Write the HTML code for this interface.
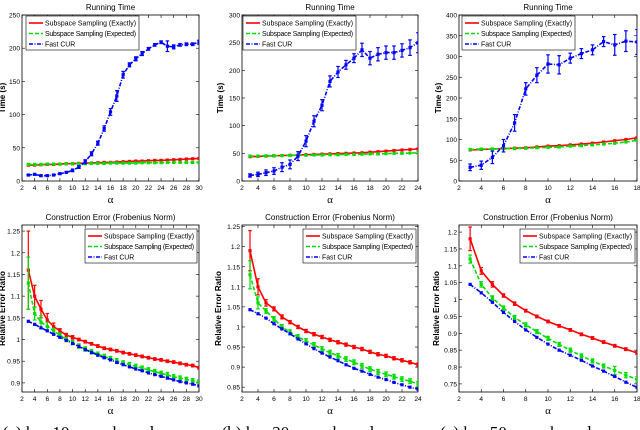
<!DOCTYPE html>
<html><head><meta charset="utf-8">
<style>
html,body{margin:0;padding:0;background:#fff;}
svg{display:block;font-family:"Liberation Sans",sans-serif;}
</style></head>
<body>
<svg id="fig" width="640" height="430" viewBox="0 0 640 430"></svg>
<script>
// ---- data ----
const xs1 = [3,4,5,6,7,8,9,10,11,12,13,14,15,16,17,18,19,20,21,22,23,24,25,26,27,28,29,30];
const xs2 = [3,4,5,6,7,8,9,10,11,12,13,14,15,16,17,18,19,20,21,22,23,24];
const xs3 = [3,4,5,6,7,8,9,10,11,12,13,14,15,16,17,18];

const t1Exact = [24,24,24.5,25,25,25.5,26,26,26.5,27,27,27.5,28,28,28.5,29,29.5,30,30,30.5,31,31,31.5,32,32.5,33,33.5,34];
const t1Expect = [25,25,25,25.5,25.5,25.5,26,26,26,26,26.5,26.5,26.5,27,27,27,27,27,27.5,27.5,27.5,27.5,28,28,28,28,28,28];
const t1Fast = [9,10,8,8,9,11,13,16,21,29,41,57,79,104,128,160,175,184,192,199,205,209,203,202,205,206,206,209];
const t1FastErr = [1,1,1,1,1,1,1,2,2,3,3,3,4,5,8,5,3,3,3,2,2,2,8,3,2,2,2,3];

const t2Exact = [44,44.5,45,45.5,46,46.5,47,47.5,48,48.5,49,49.5,50,50.5,51,52,53,54,55,56,57,58];
const t2Expect = [45,45,45.5,45.5,46,46,46.5,46.5,47,47,47.5,47.5,48,48,48.5,49,49,49.5,50,50,50.5,51];
const t2Fast = [10,12,15,18,25,30,45,72,108,137,180,197,210,222,237,222,229,232,232,236,241,250];
const t2FastErr = [3,4,5,6,8,8,8,10,10,10,10,10,8,8,12,12,12,12,12,12,14,18];

const t3Exact = [75,76,77,78,79,80,82,84,85,87,89,91,94,97,100,104];
const t3Expect = [76,77,77,78,78,79,80,81,82,84,85,87,89,91,94,98];
const t3Fast = [33,38,57,85,140,222,255,282,280,296,307,316,336,328,337,335];
const t3FastErr = [8,10,15,15,20,15,18,22,22,12,12,12,12,25,25,30];

const e1Exact = [1.16,1.10,1.07,1.045,1.03,1.02,1.01,1.005,1.0,0.995,0.99,0.985,0.98,0.977,0.974,0.97,0.967,0.964,0.961,0.958,0.955,0.953,0.95,0.948,0.945,0.942,0.94,0.935];
const e1ExactErr = [0.09,0.025,0.02,0.015,0.008,0.005,0.004,0.004,0.003,0.003,0.003,0.003,0.003,0.003,0.003,0.003,0.003,0.003,0.003,0.003,0.003,0.003,0.003,0.003,0.003,0.003,0.003,0.003];
const e1Expect = [1.13,1.06,1.04,1.03,1.02,1.01,1.0,0.993,0.985,0.978,0.972,0.966,0.961,0.956,0.951,0.946,0.942,0.938,0.934,0.93,0.926,0.922,0.918,0.914,0.911,0.908,0.905,0.902];
const e1ExpectErr = [0.06,0.015,0.015,0.01,0.006,0.005,0.005,0.005,0.005,0.005,0.005,0.005,0.005,0.005,0.005,0.005,0.005,0.005,0.005,0.005,0.005,0.005,0.006,0.005,0.005,0.005,0.005,0.005];
const e1Fast = [1.042,1.035,1.027,1.02,1.012,1.005,0.998,0.991,0.984,0.977,0.97,0.964,0.958,0.953,0.947,0.942,0.937,0.932,0.928,0.923,0.919,0.915,0.911,0.907,0.903,0.9,0.897,0.893];

const e2Exact = [1.19,1.10,1.06,1.045,1.025,1.012,1.0,0.99,0.982,0.975,0.968,0.962,0.956,0.95,0.945,0.938,0.932,0.928,0.922,0.917,0.912,0.906];
const e2ExactErr = [0.05,0.02,0.008,0.005,0.005,0.004,0.004,0.004,0.004,0.004,0.004,0.004,0.004,0.004,0.004,0.004,0.004,0.004,0.004,0.004,0.004,0.004];
const e2Expect = [1.13,1.06,1.04,1.02,1.0,0.987,0.975,0.965,0.955,0.945,0.936,0.928,0.92,0.912,0.903,0.895,0.888,0.882,0.876,0.87,0.865,0.858];
const e2ExpectErr = [0.035,0.015,0.006,0.006,0.006,0.006,0.006,0.006,0.006,0.006,0.006,0.006,0.006,0.006,0.006,0.006,0.006,0.006,0.006,0.006,0.006,0.006];
const e2Fast = [1.043,1.033,1.022,1.008,0.995,0.983,0.97,0.958,0.946,0.935,0.925,0.916,0.906,0.897,0.89,0.882,0.875,0.869,0.862,0.856,0.85,0.845];

const e3Exact = [1.18,1.085,1.045,1.012,0.988,0.967,0.95,0.935,0.922,0.91,0.897,0.886,0.874,0.863,0.853,0.842];
const e3ExactErr = [0.035,0.01,0.008,0.005,0.005,0.004,0.004,0.004,0.004,0.004,0.004,0.004,0.004,0.004,0.004,0.004];
const e3Expect = [1.12,1.045,1.005,0.975,0.947,0.925,0.905,0.885,0.867,0.85,0.833,0.818,0.803,0.79,0.776,0.763];
const e3ExpectErr = [0.012,0.008,0.006,0.006,0.006,0.006,0.006,0.006,0.006,0.006,0.006,0.006,0.006,0.012,0.008,0.008];
const e3Fast = [1.045,1.02,0.992,0.962,0.935,0.91,0.888,0.868,0.85,0.835,0.82,0.803,0.788,0.772,0.755,0.74];

const legendLabels = ["Subspace Sampling (Exactly)","Subspace Sampling (Expected)","Fast CUR"];
const captions = ["(a) k = 10, c = αk, and r = αc","(b) k = 20, c = αk, and r = αc","(c) k = 50, c = αk, and r = αc"];

// ---- drawing ----
const svg = document.getElementById('fig');
const NS = 'http://www.w3.org/2000/svg';
function mk(tag, attrs, parent){
  const e = document.createElementNS(NS, tag);
  for (const k in attrs) e.setAttribute(k, attrs[k]);
  (parent||svg).appendChild(e);
  return e;
}
const RED='#ff0000', GREEN='#00dd00', BLUE='#0000ff';

function panel(cfg){
  const g = mk('g', {});
  
  
  const {x0,x1,y0,y1,xmin,xmax,ymin,ymax} = cfg;
  const sx = v => x0 + (v - xmin) / (xmax - xmin) * (x1 - x0);
  const sy = v => y1 - (v - ymin) / (ymax - ymin) * (y1 - y0);
  const box = mk('rect', {x:x0,y:y0,width:x1-x0,height:y1-y0,fill:'#fff',stroke:'#000','stroke-width':0.8}, g);
  
  
  for (let v = xmin; v <= xmax + 1e-9; v += cfg.xstep){
    const x = sx(v);
    mk('line',{x1:x,x2:x,y1:y1,y2:y1-3,stroke:'#000','stroke-width':0.6},g);
    mk('line',{x1:x,x2:x,y1:y0,y2:y0+3,stroke:'#000','stroke-width':0.6},g);
    const t = mk('text',{x:x,y:y1+9,'font-size':6.6,'text-anchor':'middle'},g);
    t.textContent = v;
    
    
  }
  cfg.yticks.forEach(v=>{
    const y = sy(v);
    mk('line',{x1:x0,x2:x0+3,y1:y,y2:y,stroke:'#000','stroke-width':0.6},g);
    mk('line',{x1:x1,x2:x1-3,y1:y,y2:y,stroke:'#000','stroke-width':0.6},g);
    const t = mk('text',{x:x0-2,y:y+2.5,'font-size':6.6,'text-anchor':'end'},g);
    t.textContent = cfg.ylabfmt(v);
    
    
  });
  const tt = mk('text',{x:(x0+x1)/2,y:y0-5,'font-size':8,'text-anchor':'middle'},g);
  tt.textContent = cfg.title;
  
  
  const xl = mk('text',{x:(x0+x1)/2,y:y1+22,'font-size':11,'text-anchor':'middle','font-family':'Liberation Serif, serif'},g);
  xl.textContent = 'α';
  
  
  const cy = (y0+y1)/2;
  const yl = mk('text',{x:cfg.ylx,y:cy,'font-size':8,'font-weight':'bold','text-anchor':'middle',transform:`rotate(-90 ${cfg.ylx} ${cy})`},g);
  yl.textContent = cfg.ylabel;
  
  

  const cl = mk('clipPath',{id:'c'+cfg.name},g);
  mk('rect',{x:x0,y:y0,width:x1-x0,height:y1-y0},cl);
  const pg = mk('g',{'clip-path':`url(#c${cfg.name})`},g);
  cfg.series.forEach(s=>{
    const sg = mk('g',{},pg);
    
    
    const pts = s.xs.map((x,i)=>sx(x).toFixed(1)+','+sy(s.ys[i]).toFixed(1)).join(' ');
    mk('polyline',{points:pts,fill:'none',stroke:s.color,'stroke-width':1.6,'stroke-dasharray':s.dash||'none'},sg);
    s.xs.forEach((x,i)=>{
      const e = s.err ? s.err[i] : 0;
      const px = sx(x);
      if (e > 0){
        const ya = sy(s.ys[i]+e), yb = sy(s.ys[i]-e);
        mk('line',{x1:px,x2:px,y1:ya,y2:yb,stroke:s.color,'stroke-width':1.2},sg);
        mk('line',{x1:px-1.8,x2:px+1.8,y1:ya,y2:ya,stroke:s.color,'stroke-width':1.2},sg);
        mk('line',{x1:px-1.8,x2:px+1.8,y1:yb,y2:yb,stroke:s.color,'stroke-width':1.2},sg);
      }
      mk('rect',{x:px-1.6,y:sy(s.ys[i])-1.6,width:3.2,height:3.2,fill:s.color},sg);
    });
  });
  const L = cfg.legend;
  const lg = mk('g',{},g);
  
  
  mk('rect',{x:L.x,y:L.y,width:L.w,height:34,fill:'#fff',stroke:'#000','stroke-width':0.6},lg);
  const styles=[[RED,'none'],[GREEN,'4,2'],[BLUE,'4,1.5,1,1.5']];
  legendLabels.forEach((lab,i)=>{
    const yy = L.y+7+i*10.5;
    mk('line',{x1:L.x+3,x2:L.x+17,y1:yy,y2:yy,stroke:styles[i][0],'stroke-width':1.6,'stroke-dasharray':styles[i][1]},lg);
    const t = mk('text',{x:L.x+19,y:yy+2.5,'font-size':6.9,textLength:lab.length>10?L.w-22:undefined},lg);
    if (lab.length<=10) t.removeAttribute('textLength');
    t.textContent = lab;
    
    
  });
}
const rangeF=(a,b,s)=>{const r=[];for(let v=a;v<=b+1e-9;v+=s)r.push(+v.toFixed(3));return r;};
const fmtE = v => (Math.round(v*100)/100).toString();
const cols = [
  {x0:22,x1:199,xmax:30,xs:xs1,ylx:5,ylxB:5,leg:26,legB:85,cap:captions[0]},
  {x0:242,x1:418,xmax:24,xs:xs2,ylx:223,ylxB:221,leg:243,legB:303,cap:captions[1]},
  {x0:459,x1:637,xmax:18,xs:xs3,ylx:441,ylxB:439,leg:462,legB:520,cap:captions[2]}
];
const topData=[[t1Exact,t1Expect,t1Fast,t1FastErr,250],[t2Exact,t2Expect,t2Fast,t2FastErr,300],[t3Exact,t3Expect,t3Fast,t3FastErr,400]];
const botData=[[e1Exact,e1ExactErr,e1Expect,e1ExpectErr,e1Fast,0.879,1.264,0.9,1.25],
           [e2Exact,e2ExactErr,e2Expect,e2ExpectErr,e2Fast,0.838,1.254,0.85,1.25],
           [e3Exact,e3ExactErr,e3Expect,e3ExpectErr,e3Fast,0.726,1.221,0.75,1.2]];
cols.forEach((c,i)=>{
  const T=topData[i];
  panel({name:'running-time-'+(i+1),x0:c.x0,x1:c.x1,y0:15,y1:181,xmin:2,xmax:c.xmax,ymin:0,ymax:T[4],xstep:2,
    yticks:rangeF(0,T[4],50),ylabfmt:v=>v,title:'Running Time',ylabel:'Time (s)',ylx:c.ylx,
    legend:{x:c.leg,y:16,w:113},
    series:[{name:'exact-series',xs:c.xs,ys:T[0],color:RED},
            {name:'expected-series',xs:c.xs,ys:T[1],color:GREEN,dash:'4,2'},
            {name:'fastcur-series',xs:c.xs,ys:T[2],err:T[3],color:BLUE,dash:'4,1.5,1,1.5'}]});
  const B=botData[i];
  panel({name:'construction-error-'+(i+1),x0:c.x0,x1:c.x1,y0:225,y1:392,xmin:2,xmax:c.xmax,ymin:B[5],ymax:B[6],xstep:2,
    yticks:rangeF(B[7],B[8],0.05),ylabfmt:fmtE,title:'Construction Error (Frobenius Norm)',ylabel:'Relative Error Ratio',ylx:c.ylxB,
    legend:{x:c.legB,y:229,w:c.x1-c.legB-2},
    series:[{name:'exact-series',xs:c.xs,ys:B[0],err:B[1],color:RED},
            {name:'expected-series',xs:c.xs,ys:B[2],err:B[3],color:GREEN,dash:'4,2'},
            {name:'fastcur-series',xs:c.xs,ys:B[4],color:BLUE,dash:'4,1.5,1,1.5'}]});
  const cap = mk('text',{x:(c.x0+c.x1)/2-10,y:438,'font-size':17,'text-anchor':'middle','font-family':'Liberation Serif, serif'});
  cap.textContent = c.cap;
  
  
});
</script>
</body></html>
